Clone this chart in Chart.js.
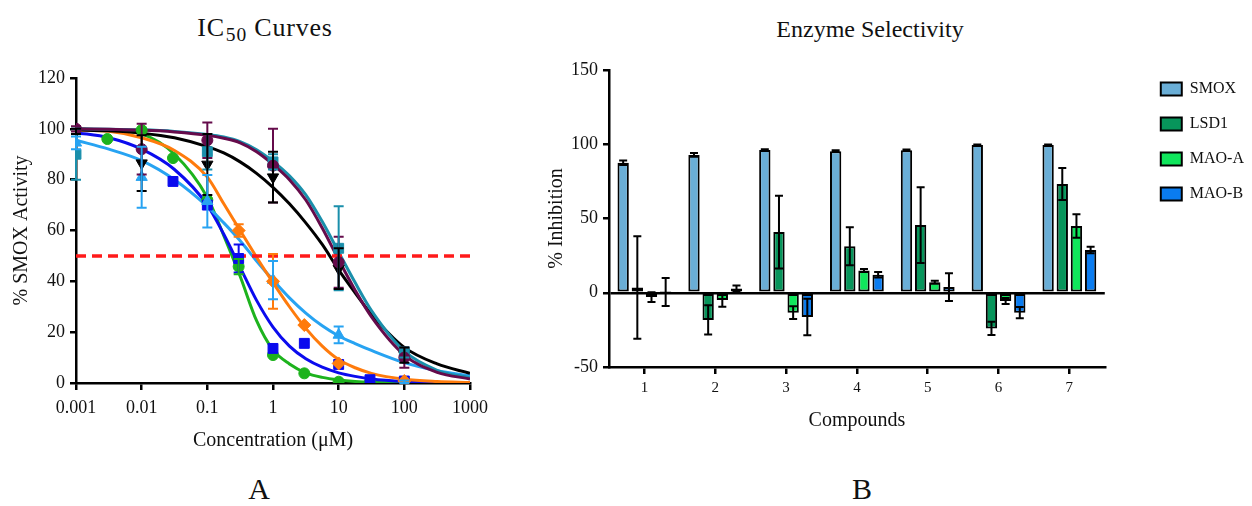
<!DOCTYPE html>
<html>
<head>
<meta charset="utf-8">
<script src="https://cdn.jsdelivr.net/npm/chart.js@4.4.1/dist/chart.umd.min.js"></script>
<style>
  body { margin: 0; background: #fff; }
  #page { position: relative; width: 1252px; height: 506px; font-family: "Liberation Serif", serif; color: #111; }
  .lbl { position: absolute; text-align: center; white-space: nowrap; line-height: 1; }
  .title { top: 17px; font-size: 24px; width: 300px; }
  .title.ic { font-size: 26px; letter-spacing: 0.8px; top: 15px; }
  .title sub { font-size: 0.75em; vertical-align: -0.25em; line-height: 0; margin-left: 1px; }
  .panel { top: 474px; font-size: 30px; width: 60px; }
  .box { position: absolute; top: 45px; height: 410px; }
</style>
</head>
<body>
<div id="page">
  <div class="lbl title ic" style="left:115px">IC<sub>50</sub> Curves</div>
  <div class="lbl title" style="left:720px">Enzyme Selectivity</div>
  <div class="lbl panel" style="left:229px">A</div>
  <div class="lbl panel" style="left:832px">B</div>
  <div class="box" style="left:0;width:500px"><canvas id="ic50"></canvas></div>
  <div class="box" style="left:520px;width:732px"><canvas id="selectivity"></canvas></div>
</div>
<script>
// ---- panel A: IC50 curves ----
const concTicks = [0.001, 0.01, 0.1, 1, 10, 100, 1000];
const halfActivity = 50;

// fitted curves at these concentrations
const fitConc   = [0.001, 0.00316, 0.01, 0.0316, 0.1, 0.178, 0.316, 0.562, 1, 1.78, 3.16, 5.62, 10, 17.8, 31.6, 100, 316, 1000];
const fitBlack  = [99.6, 99.2, 98.3, 96.5, 93, 90.5, 87, 82.5, 77, 70.5, 63, 54.5, 44.5, 35.5, 27, 14, 7.5, 3.8];
const fitPurple = [100, 99.8, 99.5, 98.8, 97.5, 96.3, 94.5, 91, 86, 80, 72, 61, 48.5, 36.5, 26, 11, 4.2, 1.6];
const fitTeal   = [100, 99.8, 99.6, 99, 97.8, 96.8, 95, 91.8, 87.2, 81.5, 74, 63.5, 51.5, 39.5, 28.5, 12.5, 5, 2];
const fitSky    = [95.5, 92, 87.5, 80, 69.5, 63, 56, 48, 40.5, 33.5, 27.5, 22.5, 18.5, 15.5, 12.8, 8, 4.8, 2.8];
const fitBlue   = [98.5, 96.5, 92, 84, 70, 58.5, 45.5, 32.5, 22, 14.5, 9.5, 6.2, 4, 2.6, 1.6, 0.6, 0.2, 0.1];
const fitGreen  = [100, 99.5, 98, 90, 73, 58, 42, 24.5, 13, 7.5, 4, 2.2, 1.2, 0.6, 0.3, 0.1, 0, 0];
const fitOrange = [99.5, 99, 96.5, 91.5, 81, 70.5, 60, 49.5, 39.5, 30, 21.5, 14.5, 9.2, 6, 3.8, 1.5, 0.6, 0.2];

// measured points (mean, sd)
const blackConc  = [0.001, 0.01, 0.1, 1, 10, 100];
const blackMean  = [99, 86.5, 86, 81, 45, 11];
const blackSd    = [1, 11, 12, 10, 8, 3];
const purpleConc = [0.001, 0.01, 0.1, 1, 10, 100];
const purpleMean = [100, 92, 95.5, 85.5, 47.5, 10];
const purpleSd   = [1, 10, 7, 14.5, 10, 4];
const tealConc   = [0.001, 0.1, 1, 10, 100];
const tealMean   = [90, 91, 87, 53, 12];
const tealSd     = [10, 7, 3, 16.5, 2];
const skyConc    = [0.001, 0.01, 0.1, 1, 10, 100];
const skyMean    = [94.5, 81, 71.5, 40.5, 18.9, 0.5];
const skySd      = [2.5, 12, 10.3, 7.5, 3.3, 0.5];
const blueConc   = [0.03, 0.1, 0.3, 1, 3, 10, 30, 100];
const blueMean   = [79.3, 70, 49, 13.6, 15.6, 7.3, 1.3, 0.8];
const blueSd     = [0, 0, 5.5, 0, 0, 0, 0, 0];
const greenConc  = [0.003, 0.01, 0.03, 0.1, 0.3, 1, 3, 10, 30];
const greenMean  = [96, 99.5, 88.5, 72, 45.8, 11, 3.8, 0.5, 0.3];
const greenSd    = [0, 0, 0, 0, 3, 0, 0, 0, 0];
const orangeConc = [0.3, 1, 3, 10, 100];
const orangeMean = [60, 40, 22.8, 7.7, 0.8];
const orangeSd   = [2.5, 10.8, 0, 0, 0];

// ---- panel B: enzyme selectivity ----
const compounds = ['1', '2', '3', '4', '5', '6', '7'];
const smox   = [87.5, 92.8, 96.2, 95.3, 96, 99.5, 99.5];
const smoxSd = [1.5, 1.3, 0.5, 0.6, 0.5, 0.3, 0.3];
const lsd1   = [3.6, -18.3, 40.9, 31.3, 45.6, -24, 73.2];
const lsd1Sd = [34.5, 9.8, 24.5, 12.8, 25.5, 4.4, 10.8];
const maoA   = [-2.9, -4.9, -13.4, 15, 7, -5.6, 44.9];
const maoASd = [3.3, 4.6, 4.3, 1, 1, 2, 7.9];
const maoB   = [0.5, 2.9, -16.3, 12.1, 3.8, -13.4, 28.8];
const maoBSd = [9.5, 2, 12.3, 1.8, 9.4, 3.8, 2.2];

Chart.defaults.font.family = '"Liberation Serif", serif';
Chart.defaults.color = '#111';

// vertical error bars with caps, from dataset.errorBars
const errorBars = {
  id: 'errorBars',
  afterDatasetsDraw(chart, args, opts) {
    const ctx = chart.ctx;
    const y = chart.scales.y;
    chart.data.datasets.forEach((ds, i) => {
      if (!ds.errorBars) return;
      const meta = chart.getDatasetMeta(i);
      ctx.save();
      ctx.strokeStyle = opts.color || ds.borderColor;
      ctx.lineWidth = opts.width;
      meta.data.forEach((el, j) => {
        const err = ds.errorBars[j];
        if (!err) return;
        const d = ds.data[j];
        const v = typeof d === 'object' ? d.y : d;
        const top = y.getPixelForValue(v + err);
        const bot = y.getPixelForValue(v - err);
        const x = el.x, c = opts.cap;
        ctx.beginPath();
        ctx.moveTo(x, top); ctx.lineTo(x, bot);
        ctx.moveTo(x - c, top); ctx.lineTo(x + c, top);
        ctx.moveTo(x - c, bot); ctx.lineTo(x + c, bot);
        ctx.stroke();
      });
      ctx.restore();
    });
  }
};

const legendNudge = {
  id: 'legendNudge',
  afterLayout(chart, args, opts) {
    const l = chart.legend;
    if (!l) return;
    l.left += opts.dx; l.right += opts.dx;
    l.top += opts.dy; l.bottom += opts.dy;
  }
};

function xy(xs, ys) {
  return xs.map((x, i) => ({ x: x, y: ys[i] }));
}

function curve(color, values) {
  return {
    data: xy(fitConc, values),
    showLine: true,
    borderColor: color,
    borderWidth: 3,
    pointRadius: 0,
    cubicInterpolationMode: 'monotone',
    order: 3
  };
}

const markerSize = { circle: 5.5, rect: 7, triangle: 6.5, rectRot: 6.5 };

function points(color, conc, mean, sd, style, rotation) {
  return {
    data: xy(conc, mean),
    errorBars: sd,
    borderColor: color,
    backgroundColor: color,
    pointStyle: style,
    rotation: rotation || 0,
    pointRadius: markerSize[style],
    pointBorderWidth: 1,
    order: 1
  };
}

const C = {
  black: '#000000', purple: '#650b4b', teal: '#1a8fab', sky: '#27a3f2',
  blue: '#0b0bee', green: '#1db31d', orange: '#ff7b0c', red: '#ff1a1a'
};

new Chart(document.getElementById('ic50'), {
  type: 'scatter',
  data: {
    datasets: [
      points(C.purple, purpleConc, purpleMean, purpleSd, 'circle'),
      points(C.teal, tealConc, tealMean, tealSd, 'rect'),
      points(C.black, blackConc, blackMean, blackSd, 'triangle', 180),
      points(C.orange, orangeConc, orangeMean, orangeSd, 'rectRot'),
      points(C.sky, skyConc, skyMean, skySd, 'triangle'),
      points(C.blue, blueConc, blueMean, blueSd, 'rect'),
      points(C.green, greenConc, greenMean, greenSd, 'circle'),
      {
        data: [{ x: concTicks[0], y: halfActivity }, { x: concTicks[concTicks.length - 1], y: halfActivity }],
        showLine: true, borderColor: C.red, borderWidth: 3.5, borderDash: [10, 6],
        pointRadius: 0, order: 2
      },
      curve(C.purple, fitPurple),
      curve(C.teal, fitTeal),
      curve(C.black, fitBlack),
      curve(C.orange, fitOrange),
      curve(C.sky, fitSky),
      curve(C.blue, fitBlue),
      curve(C.green, fitGreen)
    ]
  },
  options: {
    responsive: true,
    maintainAspectRatio: false,
    animation: false,
    events: [],
    layout: { padding: { left: 0, right: 30, top: 33, bottom: 0 } },
    scales: {
      x: {
        type: 'logarithmic',
        min: 0.001,
        max: 1000,
        afterBuildTicks: s => { s.ticks = concTicks.map(v => ({ value: v })); },
        afterFit: s => { s.height = 72; },
        ticks: { autoSkip: false, maxRotation: 0, padding: 7, font: { size: 18 }, callback: v => String(v) },
        grid: { drawOnChartArea: false, tickLength: 7, color: '#000', lineWidth: 2.5 },
        border: { color: '#000', width: 2.5 },
        title: { display: true, text: 'Concentration (μM)', font: { size: 20 }, padding: { bottom: 2 } }
      },
      y: {
        min: 0,
        max: 120,
        afterFit: s => { s.width = 76; },
        ticks: { stepSize: 20, padding: 5, font: { size: 18 } },
        grid: { drawOnChartArea: false, tickLength: 6, color: '#000', lineWidth: 2.5 },
        border: { color: '#000', width: 2.5 },
        title: { display: true, text: '% SMOX Activity', font: { size: 20 }, padding: { top: 10 } }
      }
    },
    plugins: {
      legend: { display: false },
      tooltip: { enabled: false },
      errorBars: { width: 2, cap: 5 }
    }
  },
  plugins: [errorBars]
});

function bars(label, values, sd, color) {
  return {
    label: label,
    data: values,
    errorBars: sd,
    backgroundColor: color,
    borderColor: '#000',
    borderWidth: 2,
    borderSkipped: false
  };
}

new Chart(document.getElementById('selectivity'), {
  type: 'bar',
  data: {
    labels: compounds,
    datasets: [
      bars('SMOX', smox, smoxSd, '#6aaed6'),
      bars('LSD1', lsd1, lsd1Sd, '#07955b'),
      bars('MAO-A', maoA, maoASd, '#10e65c'),
      bars('MAO-B', maoB, maoBSd, '#0a7cf0')
    ]
  },
  options: {
    responsive: true,
    maintainAspectRatio: false,
    animation: false,
    events: [],
    categoryPercentage: 0.8,
    barPercentage: 0.8,
    layout: { padding: { left: 0, right: 35, top: 25, bottom: 0 } },
    scales: {
      x: {
        afterFit: s => { s.height = 88; },
        ticks: { padding: 5, font: { size: 15 } },
        grid: { offset: false, drawOnChartArea: false, tickLength: 7, color: '#000', lineWidth: 2.5 },
        border: { color: '#000', width: 2.5 },
        title: { display: true, text: 'Compounds', font: { size: 20 }, padding: { bottom: 22 } }
      },
      y: {
        min: -50,
        max: 150,
        afterFit: s => { s.width = 89; },
        ticks: { stepSize: 50, padding: 5, font: { size: 18 } },
        grid: {
          color: c => (c.tick && c.tick.value === 0 ? '#000' : 'rgba(0,0,0,0)'),
          tickColor: '#000', tickLength: 6, lineWidth: 2.5
        },
        border: { color: '#000', width: 2.5 },
        title: { display: true, text: '% Inhibition', font: { size: 20 }, padding: { top: 25 } }
      }
    },
    plugins: {
      legend: {
        position: 'right',
        align: 'start',
        labels: { boxWidth: 21, boxHeight: 13, padding: 19, font: { size: 16 }, color: '#111' }
      },
      tooltip: { enabled: false },
      errorBars: { color: '#000', width: 2, cap: 4 },
      legendNudge: { dx: 37, dy: -8 }
    }
  },
  plugins: [errorBars, legendNudge]
});
</script>
</body>
</html>
